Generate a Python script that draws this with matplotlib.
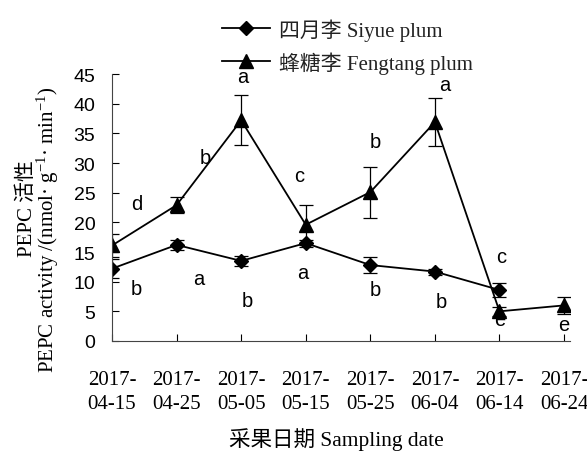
import matplotlib
matplotlib.use("Agg")
import matplotlib.pyplot as plt
from matplotlib.lines import Line2D

# sampling dates (tick labels) and PEPC activity of the two cultivars
dates = ["2017-\n04-15", "2017-\n04-25", "2017-\n05-05", "2017-\n05-15",
         "2017-\n05-25", "2017-\n06-04", "2017-\n06-14", "2017-\n06-24"]

siyue = [12.2, 16.2, 13.5, 16.5, 12.8, 11.7, 8.6]
siyue_err = [1.6, 0.9, 0.8, 0.6, 1.3, 0.5, 1.2]
siyue_sig = ["b", "a", "b", "a", "b", "b", "c"]

fengtang = [16.1, 22.9, 37.2, 19.6, 25.1, 36.9, 5.0, 6.0]
fengtang_err = [1.9, 1.4, 4.2, 3.4, 4.3, 4.1, 0.8, 1.4]
fengtang_sig = ["d", "b", "a", "c", "b", "a", "e", "e"]

plt.rcParams["mathtext.fontset"] = "custom"
plt.rcParams["mathtext.rm"] = "Liberation Serif"
plt.rcParams["mathtext.default"] = "rm"

serif = ["Liberation Serif", "Noto Sans CJK SC"]
sans = "Liberation Sans"

fig = plt.figure(figsize=(5.87, 4.56), dpi=100)
ax = fig.add_axes([0.1908, 0.25, 0.780, 0.5855])

x1 = list(range(len(siyue)))
x2 = list(range(len(fengtang)))

ax.errorbar(x1, siyue, yerr=siyue_err, color="black", lw=1.3, marker="D",
            ms=7, elinewidth=0.9, capsize=5, capthick=0.9)
ax.errorbar(x2, fengtang, yerr=fengtang_err, color="black", lw=1.3, marker="^",
            ms=10, elinewidth=0.9, capsize=5, capthick=0.9)

# significance letters
sig_fs = 14.5
ft_pos = [(0.38, 23.1), (0.45, 31.0), (0.03, 44.6), (-0.10, 27.9),
          (0.08, 33.6), (0.15, 43.3), (0.00, 3.6), (0.0, 2.7)]
for i, (dx, y) in enumerate(ft_pos):
    ax.text(x2[i] + dx, y, fengtang_sig[i], ha="center", va="center",
            fontsize=sig_fs, family=sans)
sy_pos = [(0.38, 8.8), (0.35, 10.5), (0.10, 6.9), (-0.05, 11.6),
          (0.08, 8.6), (0.10, 6.7), (0.03, 14.2)]
for i, (dx, y) in enumerate(sy_pos):
    ax.text(x1[i] + dx, y, siyue_sig[i], ha="center", va="center",
            fontsize=sig_fs, family=sans)

ax.set_xlim(0, 7.09)
ax.set_ylim(0, 45)
ax.set_yticks(range(0, 46, 5))
ax.set_xticks(x2)
ax.set_xticklabels(dates, family="Liberation Serif", fontsize=15, linespacing=1.35)
for lab in ax.get_yticklabels():
    lab.set_family(sans)
    lab.set_fontsize(14)
ax.tick_params(axis="y", direction="in", length=5, width=0.8, pad=12)
ax.tick_params(axis="x", direction="in", length=5, width=0.8, pad=21)

ax.spines["top"].set_visible(False)
ax.spines["right"].set_visible(False)
for s in ("left", "bottom"):
    ax.spines[s].set_linewidth(0.8)
    ax.spines[s].set_color("#444444")

fig.text(0.573, 0.012, "采果日期 Sampling date", ha="center", va="bottom",
         fontsize=15.5, family=serif)
fig.text(0.046, 0.543, "PEPC 活性", rotation=90, ha="center", va="center",
         fontsize=15, family=serif)
fig.text(0.082, 0.495, "PEPC activity /(nmol· g$^{-1}$· min$^{-1}$)", rotation=90,
         ha="center", va="center", fontsize=15, family=serif)

handles = [
    Line2D([], [], color="black", lw=1.3, marker="D", ms=7),
    Line2D([], [], color="black", lw=1.3, marker="^", ms=10),
]
labels = ["四月李 Siyue plum", "蜂糖李 Fengtang plum"]
leg = fig.legend(handles, labels, loc="upper left", bbox_to_anchor=(0.353, 0.99),
                 frameon=False, prop={"family": serif, "size": 15}, handlelength=2.3,
                 handletextpad=0.45, labelspacing=0.5, borderpad=0.2)
for t in leg.get_texts():
    t.set_color("#222222")

fig.savefig("out.png", dpi=100)
